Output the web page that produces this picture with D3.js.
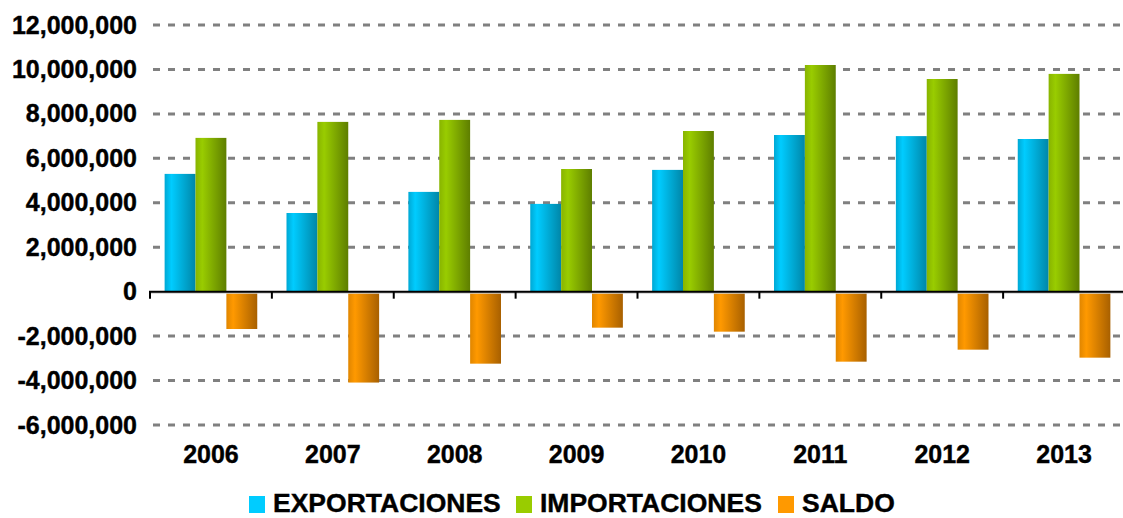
<!DOCTYPE html>
<html>
<head>
<meta charset="utf-8">
<script src="https://cdn.jsdelivr.net/npm/d3@7"></script>
<style>
  body { margin: 0; background: #fff; }
  text { font-family: "Liberation Sans", Arial, sans-serif; font-weight: bold; fill: #000; stroke: #000; stroke-width: 0.4px; }
</style>
</head>
<body>
<div id="chart"></div>
<script>
// Data
var years = ["2006", "2007", "2008", "2009", "2010", "2011", "2012", "2013"];
var exportaciones = [5300000, 3540000, 4490000, 3950000, 5480000, 7050000, 7000000, 6870000];
var importaciones = [6920000, 7640000, 7730000, 5520000, 7230000, 10200000, 9570000, 9800000];
var saldo = [-1680000, -4090000, -3240000, -1620000, -1800000, -3150000, -2610000, -2970000];
var yTicks = [12000000, 10000000, 8000000, 6000000, 4000000, 2000000, 0, -2000000, -4000000, -6000000];

var seriesNames = ["EXPORTACIONES", "IMPORTACIONES", "SALDO"];
var seriesValues = [exportaciones, importaciones, saldo];
var gradStops = [
  ["#00a8d4", "#00ccff", "#0086a8"],
  ["#88b400", "#99cc00", "#5e7e00"],
  ["#e08600", "#ff9900", "#a86000"]
];
var legendColors = ["#00ccff", "#99cc00", "#ff9900"];

var svgWidth = 1123, svgHeight = 518;
var margin = { top: 25, right: -2, bottom: 93, left: 150 };
var width = svgWidth - margin.left - margin.right;
var height = svgHeight - margin.top - margin.bottom;

var svg = d3.select("#chart").append("svg")
  .attr("width", svgWidth)
  .attr("height", svgHeight);

var defs = svg.append("defs");
gradStops.forEach(function(s, i) {
  var g = defs.append("linearGradient")
    .attr("id", "grad" + i)
    .attr("x1", "0%").attr("x2", "100%").attr("y1", "0%").attr("y2", "0%");
  g.append("stop").attr("offset", "0%").attr("stop-color", s[0]);
  g.append("stop").attr("offset", "22%").attr("stop-color", s[1]);
  g.append("stop").attr("offset", "100%").attr("stop-color", s[2]);
});

var chart = svg.append("g")
  .attr("transform", "translate(" + margin.left + "," + margin.top + ")");

var y = d3.scaleLinear().domain([-6000000, 12000000]).range([height, 0]);
var x0 = d3.scaleBand().domain(years).range([0, width]).paddingInner(0.24).paddingOuter(0.12);
var x1 = d3.scaleBand().domain(d3.range(3)).range([0, x0.bandwidth()]);
var xEdges = d3.scaleLinear().domain([0, years.length]).range([0, width]);

// Gridlines
chart.append("g").selectAll("line")
  .data(yTicks.filter(function(d) { return d !== 0; }))
  .enter().append("line")
  .attr("x1", 3).attr("x2", width)
  .attr("y1", function(d) { return y(d); })
  .attr("y2", function(d) { return y(d); })
  .attr("stroke", "#808080")
  .attr("stroke-width", 3)
  .attr("stroke-dasharray", "7,8");

// Bars
var groups = chart.append("g").selectAll("g")
  .data(years)
  .enter().append("g")
  .attr("transform", function(d) { return "translate(" + x0(d) + ",0)"; });

groups.selectAll("rect")
  .data(function(d, i) { return seriesValues.map(function(v, k) { return { k: k, v: v[i] }; }); })
  .enter().append("rect")
  .attr("x", function(d) { return x1(d.k); })
  .attr("width", x1.bandwidth())
  .attr("y", function(d) { return y(Math.max(0, d.v)); })
  .attr("height", function(d) { return Math.abs(y(d.v) - y(0)); })
  .attr("fill", function(d) { return "url(#grad" + d.k + ")"; });

// Zero axis with tick marks at category edges
chart.append("line")
  .attr("x1", 0).attr("x2", width)
  .attr("y1", y(0) + 1).attr("y2", y(0) + 1)
  .attr("stroke", "#d0d0d0").attr("stroke-width", 2);
chart.append("line")
  .attr("x1", -1).attr("x2", width)
  .attr("y1", y(0)).attr("y2", y(0))
  .attr("stroke", "#000").attr("stroke-width", 2);
chart.append("g").selectAll("line")
  .data(d3.range(years.length + 1))
  .enter().append("line")
  .attr("x1", function(d) { return xEdges(d); })
  .attr("x2", function(d) { return xEdges(d); })
  .attr("y1", y(0)).attr("y2", y(0) + 7)
  .attr("stroke", "#000").attr("stroke-width", 2);

// Y labels (plain hyphen for negatives)
var fmt = d3.format(",");
chart.append("g").selectAll("text")
  .data(yTicks)
  .enter().append("text")
  .attr("x", -13)
  .attr("y", function(d) { return y(d); })
  .attr("dy", "0.34em")
  .attr("text-anchor", "end")
  .style("font-size", "25px")
  .text(function(d) { return fmt(d).replace("\u2212", "-"); });

// X labels
chart.append("g").selectAll("text")
  .data(years)
  .enter().append("text")
  .attr("x", function(d, i) { return (xEdges(i) + xEdges(i + 1)) / 2; })
  .attr("y", height + 38)
  .attr("text-anchor", "middle")
  .style("font-size", "25px")
  .text(function(d) { return d; });

// Legend
var legendX = [249, 516, 778];
var legend = svg.append("g").selectAll("g")
  .data(seriesNames)
  .enter().append("g")
  .attr("transform", function(d, i) { return "translate(" + legendX[i] + ",496)"; });
legend.append("rect")
  .attr("width", 16).attr("height", 17)
  .attr("fill", function(d, i) { return legendColors[i]; });
legend.append("text")
  .attr("x", 24).attr("y", 16)
  .style("font-size", "26.5px")
  .text(function(d) { return d; });
</script>
</body>
</html>
